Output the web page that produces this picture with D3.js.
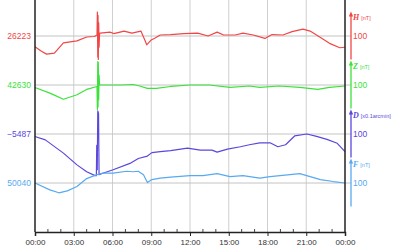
<!DOCTYPE html>
<html>
<head>
<meta charset="utf-8">
<script src="https://cdn.jsdelivr.net/npm/d3@7"></script>
<style>
  body { margin: 0; background: #fff; }
  svg { display: block; }
  text { font-family: "Liberation Sans", Arial, sans-serif; }
</style>
</head>
<body>
<svg id="chart"></svg>
<script>
// [hour, value] pairs
const hData = [
  [0, 26201], [0.5, 26192], [0.9, 26186], [1.5, 26188], [2.2, 26209], [3.25, 26213],
  [4.0, 26221], [4.6, 26222], [4.8, 26225], [4.83, 26272], [4.86, 26180], [4.88, 26265],
  [4.9, 26175], [4.93, 26250], [4.96, 26200], [5.0, 26228], [5.05, 26229], [5.8, 26231],
  [6.1, 26228], [6.9, 26233], [7.5, 26229], [8.2, 26233], [8.5, 26215], [8.65, 26205],
  [9.0, 26215], [9.3, 26219], [9.7, 26225], [10.5, 26226], [11.5, 26228], [12.6, 26229],
  [13.4, 26223], [14.1, 26231], [14.6, 26225], [15.5, 26225], [16.1, 26229], [16.9, 26225],
  [17.8, 26218], [18.35, 26226], [19.2, 26225], [19.9, 26232], [20.75, 26237], [21.3, 26233],
  [22.1, 26220], [22.8, 26208], [23.6, 26199], [24, 26200]
];
const zData = [
  [0, 42625], [1.2, 42613], [2.2, 42601], [3.25, 42610], [4.0, 42621], [4.8, 42627],
  [4.83, 42580], [4.86, 42678], [4.88, 42585], [4.9, 42676], [4.93, 42600], [4.96, 42650],
  [5.0, 42630], [5.6, 42630], [6.6, 42630], [7.6, 42631], [8.1, 42628], [8.7, 42623],
  [9.4, 42623], [10.5, 42627], [12.0, 42630], [13.5, 42630], [15.1, 42625], [16.6, 42628],
  [17.4, 42625], [18.9, 42628], [20.5, 42625], [21.9, 42621], [22.8, 42625], [24, 42628]
];
const dData = [
  [0, -5492], [0.8, -5499], [2.2, -5526], [3.25, -5550], [4.0, -5564], [4.65, -5572],
  [4.75, -5572], [4.78, -5510], [4.82, -5560], [4.86, -5440], [4.92, -5445], [4.96, -5570],
  [5.25, -5567], [6.05, -5560], [7.35, -5547], [8.0, -5537], [8.7, -5532], [9.05, -5525],
  [9.7, -5523], [10.5, -5521], [11.8, -5516], [12.8, -5520], [13.7, -5520], [14.1, -5524],
  [14.9, -5518], [15.9, -5513], [16.6, -5509], [17.4, -5505], [18.2, -5505], [18.8, -5513],
  [19.4, -5509], [20.1, -5491], [21.05, -5487], [21.8, -5492], [22.6, -5498], [23.4, -5506],
  [24, -5523]
];
const fData = [
  [0, 50040], [1.15, 50026], [1.85, 50020], [2.5, 50024], [3.25, 50033], [4.0, 50049],
  [4.8, 50057], [5.25, 50060], [6.05, 50060], [7.1, 50064], [7.6, 50063], [8.0, 50064],
  [8.4, 50057], [8.7, 50041], [9.05, 50047], [9.7, 50050], [10.5, 50052], [12.0, 50055],
  [13.0, 50055], [14.1, 50059], [15.1, 50053], [16.1, 50055], [17.4, 50050], [18.2, 50053],
  [20.5, 50059], [21.3, 50053], [22.1, 50047], [23.1, 50043], [24, 50040]
];

const baseValues = [26223, 42630, -5487, 50040];
const seriesNames = ['H', 'Z', 'D', 'F'];
const unitLabels = ['[nT]', '[nT]', '[x0.1arcmin]', '[nT]'];
const scaleLabel = '100';
const hourTicks = [0, 3, 6, 9, 12, 15, 18, 21, 24];

const colors = ['#f24646', '#3be23b', '#5a48dc', '#58aaf0'];
const allData = [hData, zData, dData, fData];

const available = { width: 400, height: 250 };
const margins = { top: 0, left: 35, right: 55, bottom: 18 };
const width = available.width - margins.left - margins.right;
const height = available.height - margins.top - margins.bottom;

const xScale = d3.scaleLinear().domain([0, 24]).range([0, width]);
// one unit per nT (or 0.1 arcmin); each trace sits in its own 100-unit slot
const yScale = d3.scaleLinear().domain([0, height / 0.49]).range([height, 0]);
const slotOf = i => (4 - i) * 100;

const svg = d3.select('#chart')
  .attr('width', available.width)
  .attr('height', available.height);

const chartG = svg.append('g')
  .attr('transform', `translate(${margins.left}, ${margins.top})`);

// grid
chartG.append('g').selectAll('line')
  .data(hourTicks.slice(1, -1))
  .join('line')
  .attr('x1', d => xScale(d)).attr('x2', d => xScale(d))
  .attr('y1', 0).attr('y2', height)
  .attr('stroke', '#cfcfcf').attr('stroke-width', 1);

chartG.append('g').selectAll('line')
  .data(baseValues)
  .join('line')
  .attr('x1', 0).attr('x2', width + 6)
  .attr('y1', (d, i) => yScale(slotOf(i))).attr('y2', (d, i) => yScale(slotOf(i)))
  .attr('stroke', '#c4c4c4').attr('stroke-width', 1);

// traces
const line = d3.line();
allData.forEach((data, i) => {
  chartG.append('path')
    .datum(data)
    .attr('fill', 'none')
    .attr('stroke', colors[i])
    .attr('stroke-width', 1.2)
    .attr('stroke-linejoin', 'round')
    .attr('d', line.x(d => xScale(d[0])).y(d => yScale(slotOf(i) + d[1] - baseValues[i])));
});

// left labels
chartG.append('g').selectAll('text')
  .data(baseValues)
  .join('text')
  .attr('x', -4)
  .attr('y', (d, i) => yScale(slotOf(i)))
  .attr('dy', '0.35em')
  .attr('text-anchor', 'end')
  .attr('font-size', 8.5)
  .attr('fill', (d, i) => colors[i])
  .text(d => d < 0 ? '\u2212' + Math.abs(d) : d);

// frame
chartG.append('line').attr('x1', 0).attr('x2', 0).attr('y1', 0).attr('y2', height)
  .attr('stroke', '#222').attr('stroke-width', 1.5);
chartG.append('line').attr('x1', width).attr('x2', width).attr('y1', 0).attr('y2', height)
  .attr('stroke', '#222').attr('stroke-width', 1.5);

// bottom axis
const xAxis = d3.axisBottom(xScale)
  .tickValues(hourTicks)
  .tickSize(4)
  .tickPadding(3)
  .tickFormat(d => String(d % 24).padStart(2, '0') + ':00');
const axisG = chartG.append('g')
  .attr('transform', `translate(0, ${height})`)
  .call(xAxis);
axisG.select('.domain').attr('stroke', '#222').attr('stroke-width', 1.5);
axisG.selectAll('.tick line').attr('stroke', '#222');
axisG.selectAll('text').attr('font-size', 8).attr('fill', '#333')
  .attr('font-family', '"Liberation Sans", Arial, sans-serif');
axisG.append('g').selectAll('line')
  .data(d3.range(1, 24).filter(h => h % 3 !== 0))
  .join('line')
  .attr('x1', d => xScale(d)).attr('x2', d => xScale(d))
  .attr('y1', 0).attr('y2', -3)
  .attr('stroke', '#444');

// right scale arrows
const axisX = width + 6;
const scaleG = chartG.append('g');
baseValues.forEach((b, i) => {
  const top = yScale(slotOf(i) + 50);
  const bottom = yScale(slotOf(i) - 50);
  const mid = yScale(slotOf(i));
  const g = scaleG.append('g');
  g.append('line')
    .attr('x1', axisX).attr('x2', axisX)
    .attr('y1', top + 3).attr('y2', bottom - 1)
    .attr('stroke', colors[i]).attr('stroke-width', 1.3);
  g.append('path')
    .attr('d', `M${axisX},${top} L${axisX - 2.2},${top + 5} L${axisX + 2.2},${top + 5} Z`)
    .attr('fill', colors[i]);
  g.append('text')
    .attr('x', axisX + 2)
    .attr('y', mid)
    .attr('dy', '0.35em')
    .attr('font-size', 8.5)
    .attr('fill', colors[i])
    .text(scaleLabel);
  const lab = g.append('text')
    .attr('x', axisX + 2)
    .attr('y', top + 8)
    .attr('fill', colors[i]);
  lab.append('tspan')
    .attr('font-family', '"Liberation Serif", serif')
    .attr('font-style', 'italic')
    .attr('font-weight', 'bold')
    .attr('font-size', 8)
    .text(seriesNames[i]);
  lab.append('tspan')
    .attr('dx', 2)
    .attr('font-size', 5.5)
    .text(unitLabels[i]);
});
</script>
</body>
</html>
